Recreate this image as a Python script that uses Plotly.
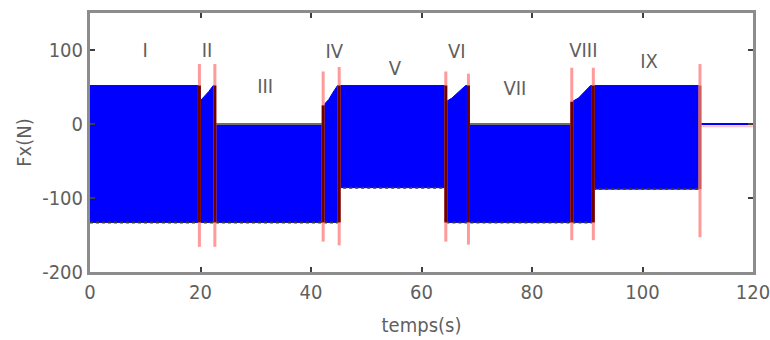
import numpy as np
import plotly.graph_objects as go

# Upper / lower envelope of the (densely oscillating) force signal Fx(N)
t_upper = [0, 19.8, 19.8, 20.6, 21.5, 22.3, 22.6, 22.6, 42.2, 42.2, 43.2, 44.0, 44.8, 45.1,
           64.4, 64.4, 65.5, 66.8, 68.0, 68.5, 68.5, 87.2, 87.2, 88.4, 89.6, 90.6, 110.4]
f_upper = [52, 52, 30, 36, 44, 52, 52, 0, 0, 25, 33, 43, 52, 52,
           52, 30, 35, 44, 52, 52, 0, 0, 30, 35, 44, 52, 52]
t_lower = [0, 45.1, 45.1, 64.4, 64.4, 91.1, 91.1, 110.4]
f_lower = [-133, -133, -86, -86, -133, -133, -88, -88]

# Signal after the last phase
t_tail = [110.4, 120]
f_tail = [0, 0]

# Phase boundaries (red vertical markers)
line_t = [19.8, 22.6, 42.2, 45.1, 64.4, 68.5, 87.2, 91.1, 110.4]
line_top = [81, 81, 71, 77, 71, 68, 76, 76, 81]
line_bot = [-166, -166, -159, -164, -159, -163, -157, -157, -153]

# Phase labels
phase_names = ["I", "II", "III", "IV", "V", "VI", "VII", "VIII", "IX"]
phase_x = [10, 21.2, 31.7, 44.2, 55.2, 66.4, 76.9, 89.3, 101.2]
phase_y = [97, 97, 49, 96, 73, 96, 46, 97, 82]

x_ticks = [0, 20, 40, 60, 80, 100, 120]
y_ticks = [-200, -100, 0, 100]

FONT = "'DejaVu Sans Condensed', 'Liberation Sans', Arial, sans-serif"
TXT = "#5f5f5f"
FS = 20

fig = go.Figure()

# filled signal band
fig.add_trace(go.Scatter(x=t_lower, y=f_lower, mode="lines",
                         line=dict(color="#0000ff", width=1), hoverinfo="skip"))
fig.add_trace(go.Scatter(x=t_upper, y=f_upper, mode="lines", fill="tonexty",
                         fillcolor="#0000ff", line=dict(color="#0000ff", width=1),
                         hoverinfo="skip"))

# dark texture along the lower edge
fig.add_trace(go.Scatter(x=t_lower, y=f_lower, mode="lines",
                         line=dict(color="#3a3a3a", width=2, dash="dot"), hoverinfo="skip"))

# grey top edge where the upper envelope sits at zero
gx, gy = [], []
for i in range(len(t_upper) - 1):
    if f_upper[i] == 0 and f_upper[i + 1] == 0:
        gx += [t_upper[i], t_upper[i + 1], None]
        gy += [0, 0, None]
fig.add_trace(go.Scatter(x=gx, y=gy, mode="lines",
                         line=dict(color="#707070", width=2), hoverinfo="skip"))

# tail
fig.add_trace(go.Scatter(x=t_tail, y=[v - 3 for v in f_tail], mode="lines",
                         line=dict(color="#ffc0c0", width=2), hoverinfo="skip"))
fig.add_trace(go.Scatter(x=t_tail, y=f_tail, mode="lines",
                         line=dict(color="#0000ff", width=2), hoverinfo="skip"))

# red markers: pale full length
lx, ly = [], []
for t, a, b in zip(line_t, line_top, line_bot):
    lx += [t, t, None]
    ly += [b, a, None]
fig.add_trace(go.Scatter(x=lx, y=ly, mode="lines",
                         line=dict(color="#ff9a9a", width=3), hoverinfo="skip"))

# darker part where the markers cross the blue band
mx, my = [], []
for t in line_t[:-1]:
    hi = max(np.interp(t - 0.02, t_upper, f_upper), np.interp(t + 0.02, t_upper, f_upper))
    lo = min(np.interp(t - 0.02, t_lower, f_lower), np.interp(t + 0.02, t_lower, f_lower))
    mx += [t, t, None]
    my += [lo, hi, None]
fig.add_trace(go.Scatter(x=mx, y=my, mode="lines",
                         line=dict(color="#6e0000", width=3), hoverinfo="skip"))
t_last = line_t[-1]
hi = np.interp(t_last - 0.02, t_upper, f_upper)
lo = np.interp(t_last - 0.02, t_lower, f_lower)
fig.add_trace(go.Scatter(x=[t_last, t_last], y=[lo, hi], mode="lines",
                         line=dict(color="#d06060", width=3), hoverinfo="skip"))

# phase labels
fig.add_trace(go.Scatter(x=phase_x, y=phase_y, mode="text", text=phase_names,
                         textfont=dict(family=FONT, size=FS, color=TXT),
                         hoverinfo="skip"))

axis_common = dict(
    showgrid=False, zeroline=False,
    showline=True, linecolor="#8c8c8c", linewidth=3, mirror="ticks",
    ticks="inside", ticklen=5, tickwidth=2, tickcolor="#404040",
    tickfont=dict(family=FONT, size=FS, color=TXT),
    ticklabeloverflow="allow", automargin=False,
)

fig.update_layout(
    width=770, height=340,
    margin=dict(l=90, r=17, t=13, b=68),
    paper_bgcolor="white", plot_bgcolor="white",
    showlegend=False,
    xaxis=dict(range=[0, 120], tickvals=x_ticks, ticktext=[str(v) for v in x_ticks],
               title=dict(text="temps(s)", font=dict(family=FONT, size=FS, color=TXT), standoff=15),
               **axis_common),
    yaxis=dict(range=[-200, 150], tickvals=y_ticks, ticktext=[str(v) for v in y_ticks],
               title=dict(text="Fx(N)", font=dict(family=FONT, size=FS, color=TXT), standoff=6),
               **axis_common),
)

fig.write_html("out.html")
